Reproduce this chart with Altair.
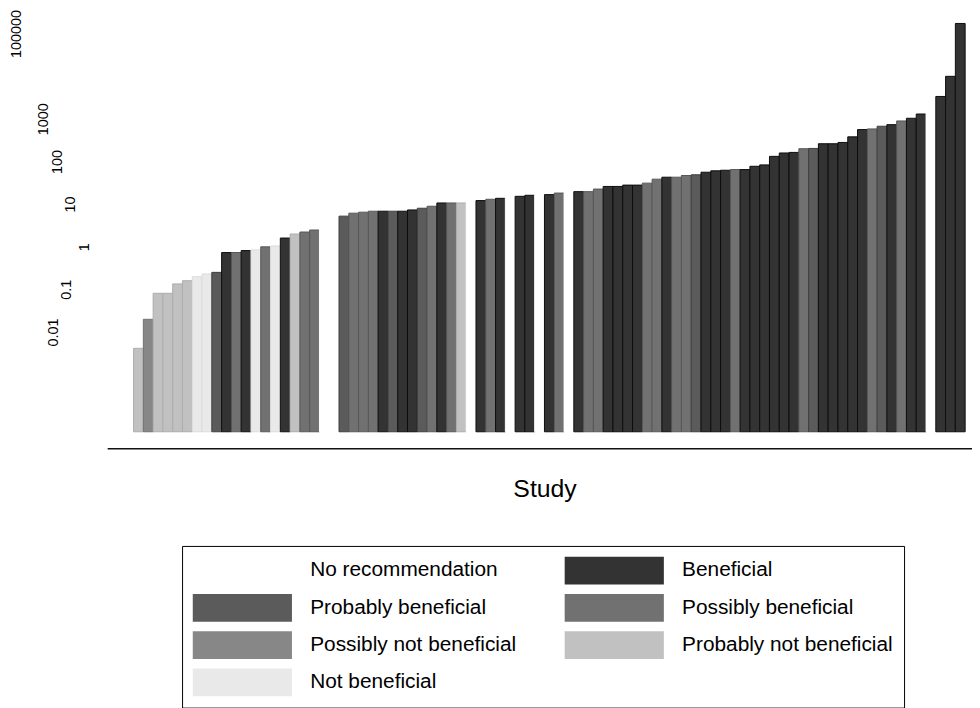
import altair as alt
import pandas as pd

FONT = "Liberation Sans, Arial, sans-serif"

# ---- data ----
study = list(range(1, 86))
rec_code = [
    "PN", "SN", "PN", "PN", "PN", "PN", "N", "N", "PB", "B",
    "SB", "B", "N", "SB", "N", "B", "PN", "SB", "SB", "NR",
    "NR", "PB", "SB", "SB", "SB", "B", "PB", "B", "B", "PB",
    "SB", "B", "SB", "PN", "NR", "B", "SB", "B", "NR", "B",
    "B", "NR", "B", "SB", "NR", "B", "SB", "SB", "B", "B",
    "B", "B", "SB", "SB", "B", "SB", "SB", "PB", "B", "B",
    "B", "SB", "B", "B", "B", "B", "B", "B", "SB", "PB",
    "B", "B", "B", "B", "B", "SB", "PB", "B", "SB", "B",
    "B", "NR", "B", "B", "B",
]
value = [
    0.00425, 0.0204, 0.083, 0.083, 0.138, 0.164, 0.204, 0.236, 0.257, 0.749,
    0.75, 0.834, 0.865, 1.02, 1.07, 1.64, 2.04, 2.27, 2.53, 3.2,
    4.3, 5.35, 6.28, 6.62, 6.98, 6.98, 6.98, 6.98, 7.48, 8.2,
    9.13, 10.9, 10.9, 10.9, 11.5, 12.4, 13.3, 14.0, 14.8, 15.6,
    16.5, 16.8, 17.1, 18.6, 19.5, 20.1, 20.1, 23.1, 26.6, 26.6,
    28.6, 28.6, 31.8, 39.4, 43.8, 43.8, 48.0, 49.9, 57.3, 61.8,
    63.8, 66.2, 66.2, 79.0, 85.2, 135, 162, 167, 204, 207,
    267, 267, 286, 387, 573, 594, 687, 748, 913, 1055,
    1328, 2000, 3427, 10160, 176500,
]
code_names = {
    "NR": "No recommendation",
    "B": "Beneficial",
    "PB": "Probably beneficial",
    "SB": "Possibly beneficial",
    "SN": "Possibly not beneficial",
    "PN": "Probably not beneficial",
    "N": "Not beneficial",
}
legend_order = [
    "No recommendation", "Beneficial", "Probably beneficial",
    "Possibly beneficial", "Possibly not beneficial",
    "Probably not beneficial", "Not beneficial",
]
fill_colors = ["#ffffff", "#333333", "#5b5b5b", "#717171", "#878787", "#c1c1c1", "#e9e9e9"]
edge_colors = ["#ffffff", "#0d0d0d", "#3e3e3e", "#575757", "#707070", "#adadad", "#dcdcdc"]

tick_values = [0.01, 0.1, 1, 10, 100, 1000, 100000]
tick_labels = ["0.01", "0.1", "1", "10", "100", "1000", "100000"]
bar_base = 4.7e-5
y_domain = [1.93e-5, 3.48e5]
x_domain = [-2.197, 86.2]

df = pd.DataFrame({
    "study": study,
    "rec": [code_names[c] for c in rec_code],
    "value": value,
    "base": [bar_base] * len(study),
})
lab_df = pd.DataFrame({"tv": tick_values, "label": tick_labels})

ys = alt.Scale(type="log", domain=y_domain, nice=False)

# legend swatch: 100 x 28 px rectangle (symbol unit = 14 px)
swatch_path = "M-1,-1H6.143V1H-1Z"

bars = alt.Chart(df).transform_calculate(
    x0="datum.study - 0.5",
    x1="datum.study + 0.5",
).mark_bar(strokeWidth=1).encode(
    x=alt.X(
        "x0:Q",
        scale=alt.Scale(domain=x_domain, nice=False, zero=False),
        axis=alt.Axis(
            title="Study", labels=False, ticks=False, grid=False,
            domainColor="#111111", domainWidth=1.5,
            titleFont=FONT, titleFontSize=25, titleFontWeight="normal",
            titleColor="black", titleX=441, titleY=49,
            titleBaseline="alphabetic", titleAlign="center",
        ),
    ),
    x2="x1:Q",
    y=alt.Y(
        "value:Q", scale=ys,
        axis=alt.Axis(
            values=tick_values, labels=False, title=None,
            ticks=True, tickSize=11, tickColor="#111111", tickWidth=1.2,
            domainColor="#111111", domainWidth=1.5,
            grid=True, gridColor="#e6eef0", gridWidth=1.6,
        ),
    ),
    y2="base:Q",
    fill=alt.Fill(
        "rec:N",
        scale=alt.Scale(domain=legend_order, range=fill_colors),
        legend=alt.Legend(
            title=None, orient="none", legendX=75.5, legendY=539.5,
            columns=2, direction="horizontal",
            symbolType=swatch_path, symbolSize=784,
            symbolStrokeWidth=0, symbolOpacity=1,
            labelFont=FONT, labelFontSize=21, labelColor="black",
            labelOffset=90.4, labelLimit=400,
            rowPadding=9.6, columnPadding=48, gridAlign="each",
            padding=10.8, strokeColor="black", fillColor="white",
            cornerRadius=0,
        ),
    ),
    stroke=alt.Stroke(
        "rec:N",
        scale=alt.Scale(domain=legend_order, range=edge_colors),
        legend=None,
    ),
)

ylabels = alt.Chart(lab_df).transform_calculate(
    dots="indexof(datum.label, '.') >= 0 ? 1 : 0",
    lx="-9 - 13.6 * (length(datum.label) - datum.dots) - 4 * datum.dots",
).mark_text(
    angle=270, align="center", baseline="middle",
    font=FONT, fontSize=14.5, color="black",
).encode(
    x=alt.X("lx:Q", scale=None, axis=None),
    y=alt.Y("tv:Q", scale=ys, axis=None),
    text="label:N",
)

chart = alt.layer(bars, ylabels).resolve_scale(x="independent").properties(
    width=872,
    height=441,
    padding={"left": 100, "top": 0, "right": 0, "bottom": 259},
    autosize=alt.AutoSizeParams(type="none"),
).configure_view(stroke=None)

chart.save("out.html", embed_options={"renderer": "svg", "actions": False})
